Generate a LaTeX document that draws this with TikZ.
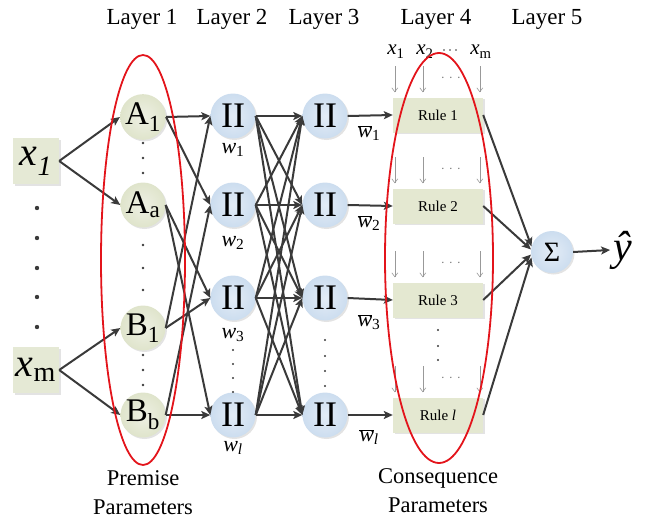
\documentclass[tikz,border=0pt]{standalone}
\usepackage{fontspec}
\setmainfont{Liberation Serif}
\usetikzlibrary{arrows.meta,shadows}

\definecolor{edge}{HTML}{3A3A3A}
\definecolor{olivefill}{HTML}{DFE4CB}
\definecolor{oliveinner}{HTML}{EEF0E4}
\definecolor{bluefill}{HTML}{CCDDEF}
\definecolor{blueinner}{HTML}{E3ECF6}
\definecolor{rulefill}{HTML}{E4E8D1}
\definecolor{ringred}{HTML}{E3141B}

\newcommand\fs[1]{\fontsize{#1}{#1}\selectfont}

\begin{document}
\begin{tikzpicture}[x=1pt,y=-1pt,
  conn/.style={draw=edge, line width=2pt, -{Stealth[length=9pt,width=8pt,inset=2pt]}},
  feed/.style={draw=gray!80, line width=0.6pt, -{Straight Barb[length=4pt,width=6pt]}},
  softshadow/.style={drop shadow={shadow xshift=1.5pt, shadow yshift=-1.5pt, opacity=0.22, fill=gray}},
  mf/.style={circle, minimum size=45pt, inner sep=0pt, inner color=oliveinner, outer color=olivefill, softshadow, font=\fs{33}},
  prod/.style={circle, minimum size=45pt, inner sep=0pt, inner color=blueinner, outer color=bluefill, softshadow, font=\fs{36}},
  inbox/.style={rectangle, minimum width=46pt, minimum height=46pt, inner sep=0pt, fill=olivefill!80!white, softshadow, font=\fs{40}},
  rulebox/.style={rectangle, minimum width=90pt, minimum height=35pt, inner sep=0pt, fill=rulefill, softshadow, font=\fs{15}},
  head/.style={font=\fs{23}, anchor=base},
  wlab/.style={font=\fs{22}},
  ring/.style={draw=ringred, line width=1.8pt},
  bigdot/.style={fill=edge},
]
\useasboundingbox (0,0) rectangle (648,519);

% layer headings
\node[head] (h1) at (142,25) {Layer 1};
\node[head] (h2) at (232,25) {Layer 2};
\node[head] (h3) at (324,25) {Layer 3};
\node[head] (h4) at (436,25) {Layer 4};
\node[head] (h5) at (547,25) {Layer 5};

% inputs
\node[inbox] (in1) at (36,161) {{\itshape x}\textsubscript{\itshape 1}};
\node[inbox] (inm) at (36,370) {{\itshape x}\textsubscript{m}};
\foreach \y in {208,238,268,297,327} \fill[bigdot] (37,\y) circle (2.2);

% layer 1: membership functions
\node[mf] (a1) at (143,117) {A\textsubscript{1}};
\node[mf] (aa) at (143,205) {A\textsubscript{a}};
\node[mf] (b1) at (143,328) {B\textsubscript{1}};
\node[mf] (bb) at (143,415) {B\textsubscript{b}};
\foreach \y in {143,158,173,245,268,290,355,370,385} \fill[edge] (143,\y) circle (1.3);

% layer 2: firing strengths
\node[prod] (p1) at (233,116) {II};
\node[prod] (p2) at (233,205) {II};
\node[prod] (p3) at (233,298) {II};
\node[prod] (p4) at (233,415) {II};
\node[wlab] (w1) at (233,150) {{\itshape w}\textsubscript{1}};
\node[wlab] (w2) at (233,243) {{\itshape w}\textsubscript{2}};
\node[wlab] (w3) at (233,335) {{\itshape w}\textsubscript{3}};
\node[wlab] (wl) at (233,448) {{\itshape w}\textsubscript{\itshape l}};
\foreach \y in {350,364,378,392} \fill[edge] (233,\y) circle (1.2);

% layer 3: normalisation
\node[prod] (n1) at (325,116) {II};
\node[prod] (n2) at (325,205) {II};
\node[prod] (n3) at (325,298) {II};
\node[prod] (n4) at (325,415) {II};
\foreach \y in {340,356,371,386} \fill[edge] (325,\y) circle (1.2);
\node[wlab] (v1) at (369,133) {$\overline{\mbox{\itshape w}}$\textsubscript{1}};
\node[wlab] (v2) at (369,223) {$\overline{\mbox{\itshape w}}$\textsubscript{2}};
\node[wlab] (v3) at (369,322) {$\overline{\mbox{\itshape w}}$\textsubscript{3}};
\node[wlab] (vl) at (369,437) {$\overline{\mbox{\itshape w}}$\textsubscript{\itshape l}};

% layer 4: rule consequents
\node[rulebox] (r1) at (438,115) {Rule 1};
\node[rulebox] (r2) at (438,206) {Rule 2};
\node[rulebox] (r3) at (438,300) {Rule 3};
\node[rulebox] (r4) at (438,415) {Rule {\itshape l}};
\foreach \r in {r1,r2,r3,r4} {
  \foreach \dx in {2,30,87}
    \draw[feed] ([xshift=\dx pt, yshift=31pt]\r.north west) -- ++(0,26);
  \foreach \dx in {50,58,66}
    \fill[gray] ([xshift=\dx pt, yshift=20pt]\r.north west) circle (0.8);
}
\foreach \y in {330,346,360} \fill[edge] (438,\y) circle (1.2);
\node[font=\fs{21}, anchor=base] (q1) at (396,55) {{\itshape x}\textsubscript{1}};
\node[font=\fs{21}, anchor=base] (q2) at (425,55) {{\itshape x}\textsubscript{2}};
\foreach \x in {444,450,456} \fill[edge] (\x,50) circle (0.8);
\node[font=\fs{21}, anchor=base] (qm) at (481,55) {{\itshape x}\textsubscript{m}};

% layer 5: summation
\node[prod, font=\fs{28}, minimum size=42pt] (sig) at (552,252) {Σ};
\node[font=\fs{42}] (yhat) at (623,250) {\itshape ŷ};

% connections
\draw[conn] (in1.east) -- (a1.west);
\draw[conn] (in1.east) -- (aa.west);
\draw[conn] (inm.east) -- (b1.west);
\draw[conn] (inm.east) -- (bb.west);

\draw[conn] (a1.east) -- (p1.west);
\draw[conn] (a1.east) -- (p2.west);
\draw[conn] (aa.east) -- (p3.west);
\draw[conn] (aa.east) -- (p4.west);
\draw[conn] (b1.east) -- (p1.west);
\draw[conn] (b1.east) -- (p3.west);
\draw[conn] (bb.east) -- (p2.west);
\draw[conn] (bb.east) -- (p4.west);

\foreach \s in {p1,p2,p3,p4}
  \foreach \t in {n1,n2,n3,n4}
    \draw[conn] (\s.east) -- (\t.west);

\draw[conn] (n1.east) -- (r1.west);
\draw[conn] (n2.east) -- (r2.west);
\draw[conn] (n3.east) -- (r3.west);
\draw[conn] (n4.east) -- (r4.west);

\draw[conn] (r1.east) -- (sig.165);
\draw[conn] (r2.east) -- (sig.173);
\draw[conn] (r3.east) -- (sig.187);
\draw[conn] (r4.east) -- (sig.195);
\draw[conn] (sig.east) -- (yhat.west);

% parameter groups
\draw[ring] (143,260) ellipse [x radius=42, y radius=205];
\draw[ring] (439,258) ellipse [x radius=54, y radius=205];
\node[font=\fs{22.5}] (pp1) at (143,478) {Premise};
\node[font=\fs{22.5}] (pp2) at (143,507) {Parameters};
\node[font=\fs{22.5}] (cp1) at (438,478) {Consequence};
\node[font=\fs{22.5}] (cp2) at (438,505) {Parameters};
\end{tikzpicture}
\end{document}
